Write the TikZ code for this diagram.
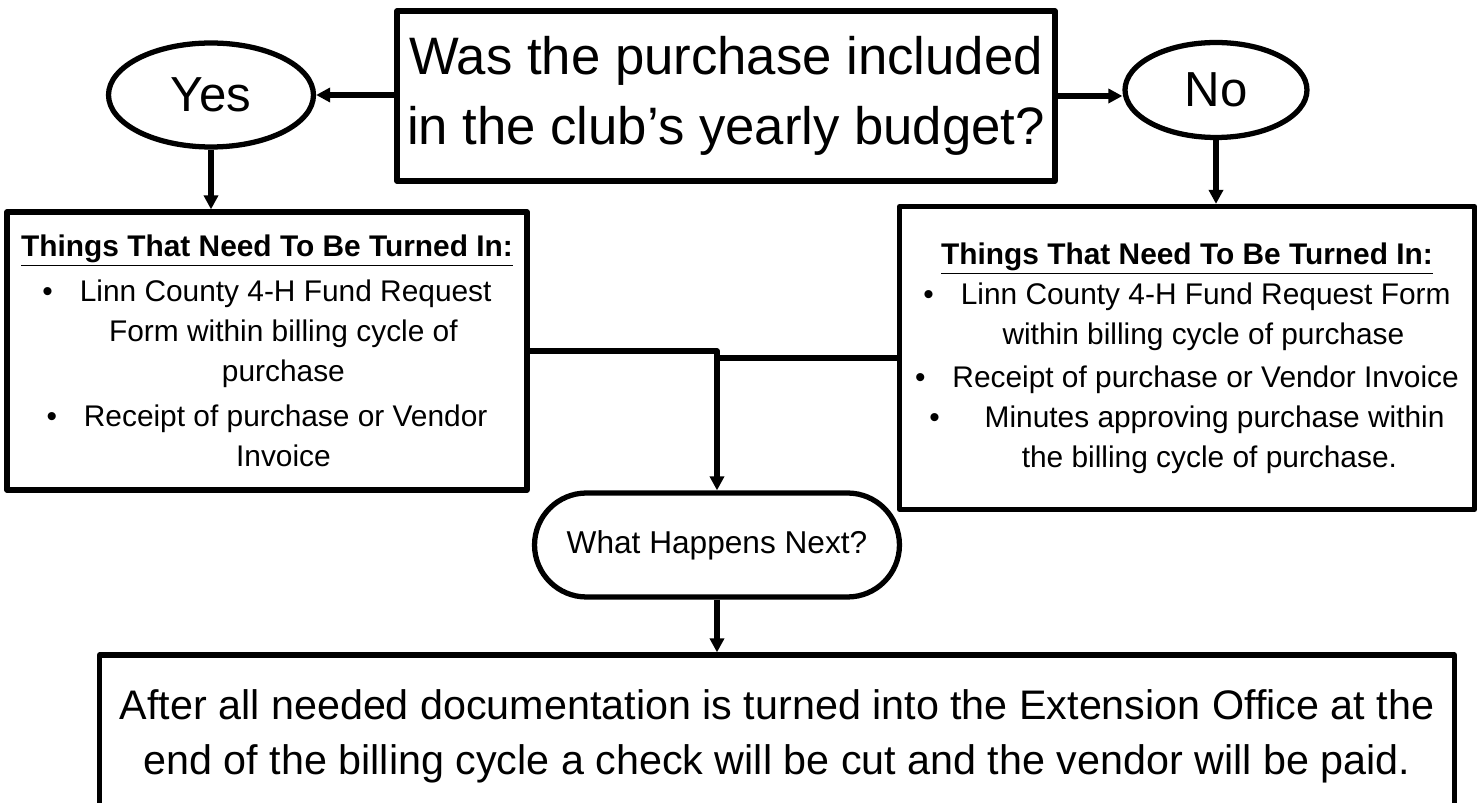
\documentclass[tikz,border=0pt]{standalone}
\usepackage{fontspec}
\setmainfont{Liberation Sans}
\usetikzlibrary{arrows.meta,shapes.geometric}
\begin{document}
\begin{tikzpicture}[x=0.02cm, y=-0.02cm, line width=3pt, line join=round,
        box/.style={draw, rectangle, align=center, inner sep=0pt},
        oval/.style={draw, ellipse, inner sep=0pt, font=\fontsize{28}{34}\selectfont},
        list/.style={box, font=\fontsize{17}{22.7}\selectfont},
        link/.style={-{Triangle[length=8pt,width=8pt]}}]
        \useasboundingbox (0,0) rectangle (1482,803);

        \node [box, minimum width=13.16cm, minimum height=3.4cm, font=\fontsize{30}{39.7}\selectfont] (question) at (726,96)
            {Was the purchase included\\in the club’s yearly budget?};
        \node [oval, minimum width=4.1cm, minimum height=2.08cm] (yes) at (211,95) {Yes};
        \node [oval, minimum width=3.64cm, minimum height=1.9cm] (no) at (1216,90) {No};

        \node [list, minimum width=10.4cm, minimum height=5.56cm] (yesdocs) at (267,351)
            {{\bfseries\underline{Things That Need To Be Turned In:}}\\[3pt]
             \textbullet\hspace{0.9em}Linn County 4-H Fund Request\\
             \hspace*{1.1em}Form within billing cycle of\\
             \hspace*{1.1em}purchase\\[3pt]
             \textbullet\hspace{0.9em}Receipt of purchase or Vendor\\
             \hspace*{1.1em}Invoice};
        \node [list, minimum width=11.5cm, minimum height=6.06cm] (nodocs) at (1187,358)
            {{\bfseries\underline{Things That Need To Be Turned In:}}\\
             \textbullet\hspace{0.9em}Linn County 4-H Fund Request Form\\
             \hspace*{1.1em}within billing cycle of purchase\\[2pt]
             \textbullet\hspace{0.9em}Receipt of purchase or Vendor Invoice\\
             \textbullet\hspace{1.5em}Minutes approving purchase within\\
             \hspace*{1.5em}the billing cycle of purchase.};

        \node [box, rounded corners=1.04cm, minimum width=7.3cm, minimum height=2.08cm, font=\fontsize{18}{22}\selectfont] (next) at (717,545)
            {What Happens Next?};
        \node [box, minimum width=27.1cm, minimum height=3.6cm, font=\fontsize{23.5}{31.8}\selectfont] (paid) at (777,745)
            {After all needed documentation is turned into the Extension Office at the\\
             end of the billing cycle a check will be cut and the vendor will be paid.\\[-17pt]};

        \draw [link] (question.west |- yes) -- (yes.east);
        \draw [link] (question.east) -- (question.east -| no.west);
        \draw [link] (yes.south) -- (yes.south |- yesdocs.north);
        \draw [link] (no.south) -- (no.south |- nodocs.north);
        \draw [link] (yesdocs.east) -| (next.north);
        \draw (nodocs.west) -- (nodocs.west -| next.north);
        \draw [link] (next.south) -- (next.south |- paid.north);
\end{tikzpicture}
\end{document}
